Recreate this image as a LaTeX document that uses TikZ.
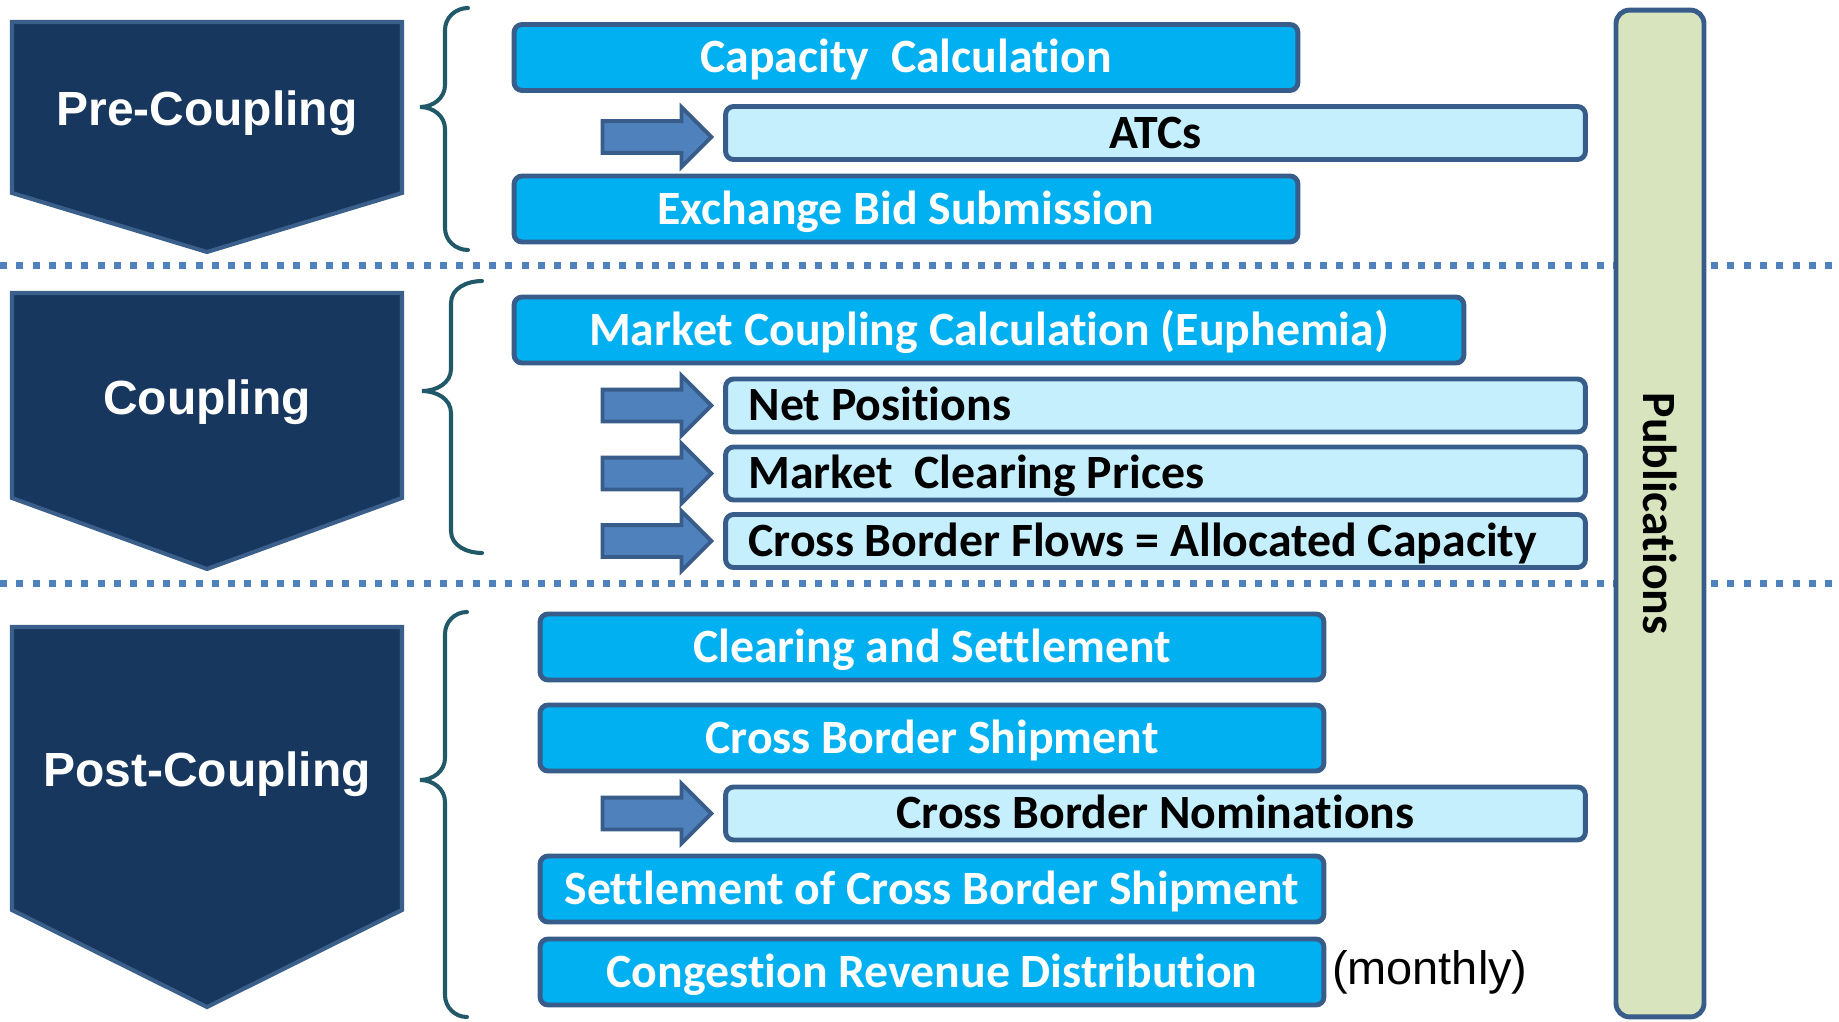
\documentclass[tikz,border=0pt]{standalone}
\usepackage{fontspec}
\setmainfont{Carlito}[RawFeature={-liga;-calt;-dlig;-clig}]
\newfontfamily\arialfont{Liberation Sans}
\usetikzlibrary{shapes.arrows,positioning}

\definecolor{phasefill}{HTML}{17375E}
\definecolor{phaseline}{HTML}{3A5F8B}
\definecolor{boxfill}{HTML}{00B0F0}
\definecolor{boxline}{HTML}{385D8A}
\definecolor{lightfill}{HTML}{C6EFFE}
\definecolor{pubfill}{HTML}{D7E4BD}
\definecolor{arrfill}{HTML}{4F81BD}
\definecolor{bracecol}{HTML}{215968}

\begin{document}
\begin{tikzpicture}[x=0.02cm,y=-0.02cm,
        every node/.style={font=\fontsize{27.2}{32}\selectfont\bfseries},
        phase/.style={fill=phasefill,draw=phaseline,line width=2.3pt},
        phasetext/.style={text=white,font=\fontsize{27.3}{32}\selectfont\arialfont\bfseries},
        dbox/.style={draw=boxline,fill=boxfill,line width=2.8pt,rounded corners=0.16cm,
                     minimum width=15.68cm,minimum height=1.32cm,inner sep=0,text=white,
                     text height=19pt,text depth=1.5pt},
        lbox/.style={draw=boxline,fill=lightfill,line width=2.8pt,rounded corners=0.16cm,
                     minimum width=17.2cm,minimum height=1.06cm,inner sep=0,text=black,
                     text height=19pt,text depth=1.5pt},
        lleft/.style={lbox,text width=16.28cm,align=flush left},
        blkarrow/.style={single arrow,draw=boxline,fill=arrfill,line width=2.2pt,
                     minimum height=2.18cm,minimum width=1.12cm,single arrow head extend=0.28cm,
                     inner xsep=0,inner ysep=0.28cm},
        dotline/.style={draw=arrfill,line width=0.14cm,dash pattern=on 0.14cm off 0.186cm},
        brc/.style={draw=bracecol,line width=2.3pt,line cap=round}]

        \useasboundingbox (0,0) rectangle (1839,1021);

        % separators
        \draw[dotline] (0,265) -- (1839,265);
        \draw[dotline] (0,583) -- (1839,583);

        % phases
        \draw[phase] (12,22) -- (402,22) -- (402,193) -- (207,252) -- (12,193) -- cycle;
        \draw[phase] (12,293) -- (402,293) -- (402,498) -- (207,569) -- (12,498) -- cycle;
        \draw[phase] (12,627) -- (402,627) -- (402,910) -- (207,1007) -- (12,910) -- cycle;
        \node[phasetext] (pre) at (207,113) {Pre-Coupling};
        \node[phasetext] (coup) at (207,402) {Coupling};
        \node[phasetext] (post) at (207,774) {Post-Coupling};

        % braces
        \foreach \e/\v/\c/\t/\m/\b in {468/445/420/8/107/250, 482/451/422/281/391/553,
                                       467/445/420/612/780/1017}
            \draw[brc] (\e,\t) to[out=180,in=90] (\v,\t+22) -- (\v,\m-22)
                to[out=-90,in=0] (\c,\m) to[out=0,in=90] (\v,\m+22) -- (\v,\b-22)
                to[out=-90,in=180] (\e,\b);

        % steps
        \node[dbox] (cap) at (906,57.5) {Capacity\ \ Calculation};
        \node[lbox] (atc) at (1155.5,133) {ATCs};
        \node[dbox] (exch) at (906,209) {Exchange Bid Submission};

        \node[dbox,minimum width=19cm] (mcc) at (989,330) {Market Coupling Calculation (Euphemia)};
        \node[lleft] (np) at (1155.5,405.5) {Net Positions};
        \node[lleft] (mcp) at (1155.5,473.5) {Market\ \ Clearing Prices};
        \node[lleft] (cbf) at (1155.5,541) {Cross Border Flows = Allocated Capacity};

        \node[dbox] (cs) at (932,647) {Clearing and Settlement};
        \node[dbox] (cbs) at (932,738) {Cross Border Shipment};
        \node[lbox] (cbn) at (1155.5,813.5) {Cross Border Nominations};
        \node[dbox] (scbs) at (932,889) {Settlement of Cross Border Shipment};
        \node[dbox] (crd) at (932,972) {Congestion Revenue Distribution};
        \node[right=3pt of crd,inner sep=0,font=\fontsize{26.7}{32}\selectfont\arialfont] (monthly) {(monthly)};

        \foreach \n/\y in {atc/137,np/405.5,mcp/473.5,cbf/541,cbn/813.5}
            \node[blkarrow] (arr-\n) at (649,\y) {};

        % publications
        \node[draw=boxline,fill=pubfill,line width=2.8pt,rounded corners=0.27cm,
              minimum width=1.76cm,minimum height=20.14cm,inner sep=0] (pub) at (1660,513.5) {};
        \node[rotate=-90] (pubtext) at (pub.center) {Publications};
    \end{tikzpicture}
\end{document}
